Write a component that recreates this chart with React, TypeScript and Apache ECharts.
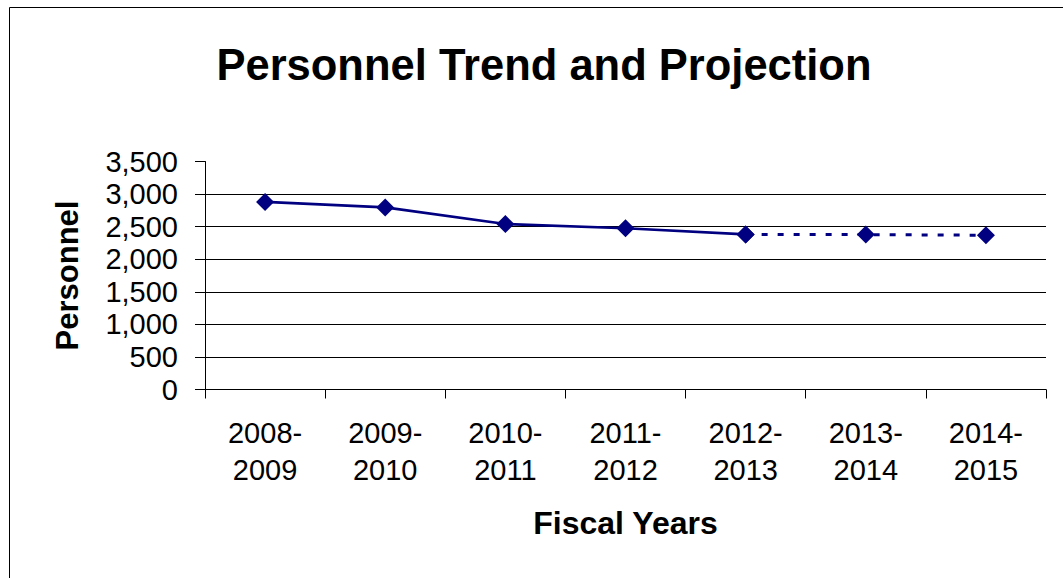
import React, { useEffect, useRef } from "react";
import * as echarts from "echarts";

const categories = ["2008-\n2009", "2009-\n2010", "2010-\n2011", "2011-\n2012", "2012-\n2013", "2013-\n2014", "2014-\n2015"];
const actualValues = [2880, 2795, 2540, 2475, 2380, null, null];
const projectionValues = [null, null, null, null, 2380, 2378, 2368];
const yMin = 0;
const yMax = 3500;
const yInterval = 500;

const FONT = "Liberation Sans, Arial, sans-serif";
const NAVY = "#000080";

export default function App() {
  const ref = useRef<HTMLDivElement>(null);
  useEffect(() => {
    if (!ref.current) return;
    const chart = echarts.init(ref.current, null, { renderer: "svg" });
    chart.setOption({
      animation: false,
      backgroundColor: "#ffffff",
      title: {
        text: "Personnel Trend and Projection",
        left: 539,
        top: 38,
        textAlign: "center",
        textStyle: { fontFamily: FONT, fontSize: 43.5, fontWeight: "bold", color: "#000" },
      },
      graphic: [
        {
          type: "rect",
          shape: { x: 9.5, y: 7.5, width: 1100, height: 600 },
          style: { fill: "none", stroke: "#000", lineWidth: 1 },
          silent: true,
        },
      ],
      grid: { left: 205, right: 17, top: 161.5, bottom: 188.5, containLabel: false },
      xAxis: {
        type: "category",
        data: categories,
        boundaryGap: true,
        name: "Fiscal Years",
        nameLocation: "middle",
        nameGap: 117,
        nameTextStyle: { fontFamily: FONT, fontSize: 32, fontWeight: "bold", color: "#000" },
        axisLine: { lineStyle: { color: "#000", width: 1 } },
        axisTick: { show: true, length: 9, inside: false, alignWithLabel: false, lineStyle: { color: "#000" } },
        axisLabel: {
          fontFamily: FONT,
          fontSize: 29,
          color: "#000",
          lineHeight: 37,
          margin: 25,
          interval: 0,
        },
        splitLine: { show: false },
      },
      yAxis: {
        type: "value",
        min: yMin,
        max: yMax,
        interval: yInterval,
        name: "Personnel",
        nameLocation: "middle",
        nameRotate: 90,
        nameGap: 122,
        nameTextStyle: { fontFamily: FONT, fontSize: 31, fontWeight: "bold", color: "#000" },
        axisLine: { show: true, lineStyle: { color: "#000", width: 1 } },
        axisTick: { show: true, length: 10, lineStyle: { color: "#000" } },
        axisLabel: {
          fontFamily: FONT,
          fontSize: 29,
          color: "#000",
          margin: 27,
          formatter: (v: number) => v.toLocaleString("en-US"),
        },
        splitLine: {
          show: true,
          lineStyle: {
            color: ["#000", "#000", "#000", "#000", "#000", "#000", "#000", "rgba(0,0,0,0)"],
            width: 1,
          },
        },
      },
      series: [
        {
          name: "Personnel",
          type: "line",
          data: actualValues,
          symbol: "diamond",
          symbolSize: 18,
          itemStyle: { color: NAVY },
          lineStyle: { color: NAVY, width: 2.7 },
          connectNulls: false,
          z: 3,
        },
        {
          name: "Projection",
          type: "line",
          data: projectionValues,
          symbol: "diamond",
          symbolSize: 18,
          itemStyle: { color: NAVY },
          lineStyle: { color: NAVY, width: 3, type: [6, 10] },
          connectNulls: false,
          z: 2,
        },
      ],
    });
    return () => chart.dispose();
  }, []);
  return (
    <div
      ref={ref}
      style={{ position: "fixed", left: 0, top: 0, width: 1063, height: 578 }}
    />
  );
}
